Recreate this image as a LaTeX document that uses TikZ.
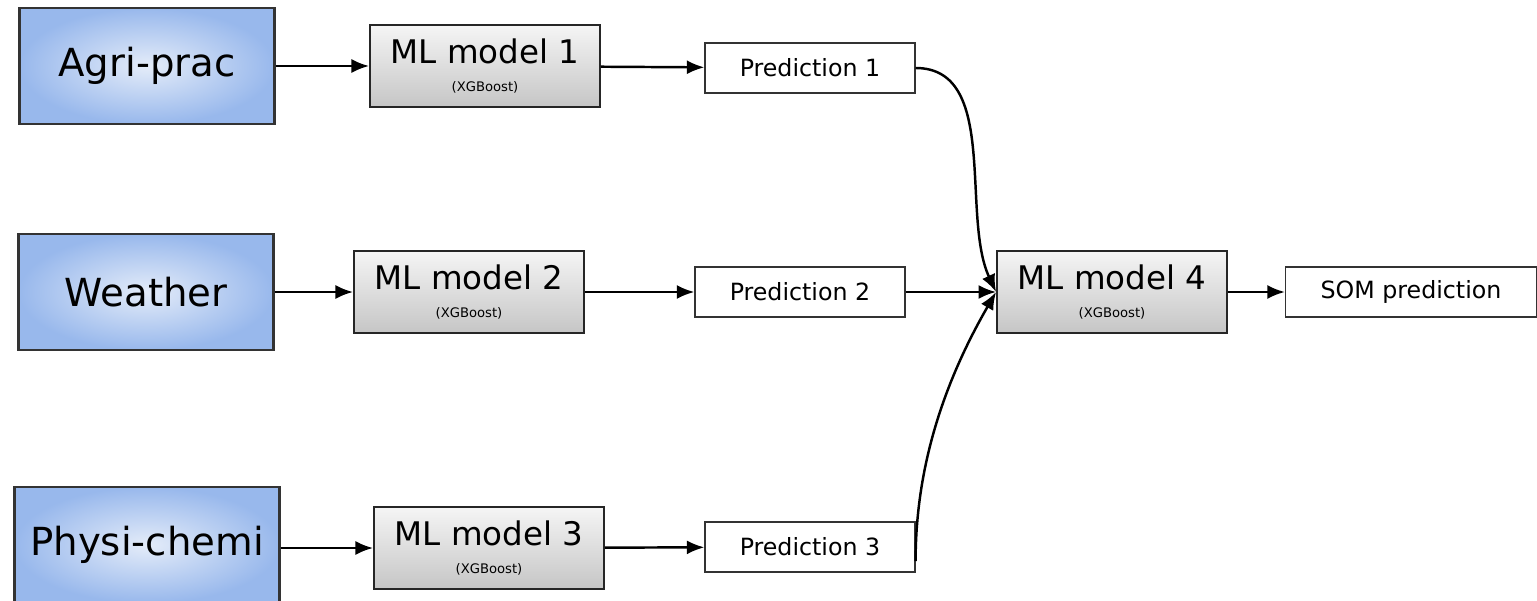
\documentclass[tikz,border=0pt]{standalone}
\usepackage{fontspec}
\setmainfont{DejaVu Sans}
\usetikzlibrary{arrows.meta, calc}
\definecolor{inblue}{HTML}{E4ECF9}
\definecolor{outblue}{HTML}{98B8EC}

\begin{document}
\begin{tikzpicture}[x=0.02cm, y=-0.02cm,
  source/.style={draw=black!80, line width=1.4pt, inner color=inblue, outer color=outblue,
    minimum width=5.1cm, minimum height=2.32cm, inner sep=0pt, font=\fontsize{22}{24}\selectfont},
  model/.style={draw=black!85, line width=1.1pt, top color=gray!8, bottom color=gray!45,
    minimum width=4.6cm, minimum height=1.64cm, inner sep=0pt, align=center,
    font=\fontsize{18.5}{19}\selectfont},
  pred/.style={draw=black!80, line width=0.7pt, fill=white,
    minimum width=4.2cm, minimum height=1cm, inner sep=0pt, font=\fontsize{13.5}{15}\selectfont},
  link/.style={-{Latex[length=10pt,width=8pt]}, line width=1.4pt}]
\useasboundingbox (0,0) rectangle (1537,601);

% Data sources
\node[source] (agri) at (147,66) {Agri-prac};
\node[source] (weather) at (146,292) {Weather};
\node[source, minimum width=5.3cm] (physi) at (147,545) {Physi-chemi};

% First level models
\node[model] (ml1) at (485,66) {ML model 1\\[-3pt]{\fontsize{7.5}{8}\selectfont (XGBoost)}};
\node[model] (ml2) at (469,292) {ML model 2\\[-3pt]{\fontsize{7.5}{8}\selectfont (XGBoost)}};
\node[model] (ml3) at (489,548) {ML model 3\\[-3pt]{\fontsize{7.5}{8}\selectfont (XGBoost)}};

% Predictions
\node[pred] (p1) at (810,68) {Prediction 1};
\node[pred] (p2) at (800,292) {Prediction 2};
\node[pred] (p3) at (810,547) {Prediction 3};

% Stacking model
\node[model] (ml4) at (1112,292) {ML model 4\\[-3pt]{\fontsize{7.5}{8}\selectfont (XGBoost)}};
\node[pred, minimum width=5.02cm] (som) at (1411,292) {SOM prediction};

\draw[link] (agri) -- (ml1);
\draw[link] (weather) -- (ml2);
\draw[link] (physi.east |- ml3) -- (ml3);
\draw[link] (ml1) -- (p1);
\draw[link] (ml2) -- (p2);
\draw[link] (ml3) -- (p3);

\coordinate (p3out) at ($(p3.east)+(0,14)$);
\draw[link] (p1.east) to[out=0, in=115, looseness=0.9] (ml4.west);
\draw[link] (p2) -- (ml4);
\draw[link] (p3out) to[out=90, in=-120, looseness=0.9] (ml4.west);
\draw[link] (ml4) -- (som);
\end{tikzpicture}
\end{document}
